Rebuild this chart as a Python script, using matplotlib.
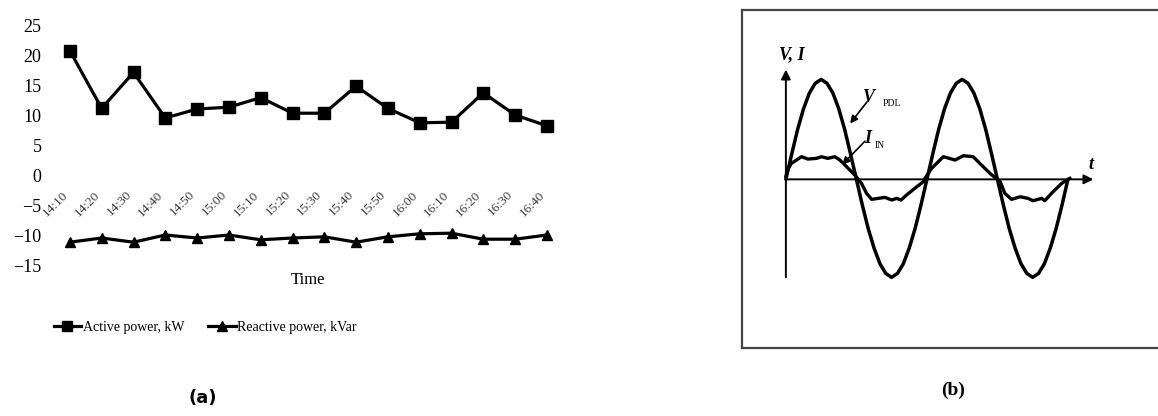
import matplotlib
matplotlib.use("Agg")
import matplotlib.pyplot as plt
import matplotlib.transforms as mtransforms

plt.rcParams['font.family'] = ['Liberation Serif', 'DejaVu Serif']

# (a) measured power, 14:10 - 16:40
times = ['14:10', '14:20', '14:30', '14:40', '14:50', '15:00', '15:10', '15:20',
         '15:30', '15:40', '15:50', '16:00', '16:10', '16:20', '16:30', '16:40']
active = [20.7, 11.1, 17.1, 9.5, 11.0, 11.3, 12.9, 10.3,
          10.3, 14.8, 11.1, 8.7, 8.8, 13.7, 10.0, 8.2]
reactive = [-11.2, -10.5, -11.2, -10.0, -10.5, -10.0, -10.8, -10.5,
            -10.3, -11.2, -10.3, -9.8, -9.7, -10.7, -10.7, -10.0]
y_ticks = [25, 20, 15, 10, 5, 0, -5, -10, -15]

# (b) schematic waveforms, phase in electrical degrees
v_phase = [0, 15, 30, 45, 60, 75, 90, 105, 120, 135, 150, 165, 180, 195, 210, 225, 240, 255, 270,
           285, 300, 315, 330, 345, 360, 375, 390, 405, 420, 435, 450, 465, 480, 495, 510, 525, 540,
           555, 570, 585, 600, 615, 630, 645, 660, 675, 690, 705, 720]
v_pdl = [0, 0.26, 0.51, 0.72, 0.88, 0.98, 1.02, 0.98, 0.88, 0.72, 0.51, 0.26, 0,
         -0.26, -0.5, -0.7, -0.86, -0.96, -1.0, -0.96, -0.86, -0.7, -0.5, -0.26, 0,
         0.26, 0.51, 0.72, 0.88, 0.98, 1.02, 0.98, 0.88, 0.72, 0.51, 0.26, 0,
         -0.26, -0.5, -0.7, -0.86, -0.96, -1.0, -0.96, -0.86, -0.7, -0.5, -0.26, 0]
i_phase = [0, 4, 14, 40, 56, 78, 91, 107, 125, 138, 155, 176, 193, 206, 219, 236, 253, 270, 283, 294, 308, 329, 351,
           355, 372, 402, 432, 453, 478, 495, 521, 547, 559, 576, 598, 618, 631, 653, 661, 678, 704, 725]
i_in = [0.03, 0.095, 0.163, 0.231, 0.207, 0.214, 0.231, 0.214, 0.231, 0.197, 0.129, 0.044, -0.041, -0.143, -0.204,
        -0.194, -0.184, -0.211, -0.194, -0.211, -0.160, -0.092, -0.024,
        0.01, 0.112, 0.231, 0.197, 0.241, 0.231, 0.163, 0.061, -0.024, -0.143, -0.204, -0.178, -0.194, -0.218,
        -0.194, -0.218, -0.143, -0.041, 0.01]

W, H = 1158, 416
fig = plt.figure(figsize=(W / 100, H / 100), dpi=100)

# ---------------- panel (a) ----------------
ax = fig.add_axes([54 / W, 1 - 265 / H, 508.8 / W, 240 / H])
x = list(range(len(times)))
ax.plot(x, active, color='black', lw=2.3, marker='s', ms=8.5, label='Active power, kW')
ax.plot(x, reactive, color='black', lw=2.3, marker='^', ms=7.5, label='Reactive power, kVar')
ax.set_xlim(-0.5, 15.5)
ax.set_ylim(-15, 25)
ax.set_yticks(y_ticks)
ax.tick_params(axis='y', length=0, pad=9, labelsize=13)
ax.spines['bottom'].set_position(('data', 0))
for s in ax.spines.values():
    s.set_visible(False)
ax.set_xticks(x)
ax.set_xticklabels(times, rotation=45, ha='right', va='center', rotation_mode='anchor',
                   fontsize=9.5, color='#3a3a3a')
ax.tick_params(axis='x', length=0, pad=13)
offset = mtransforms.ScaledTranslation(-4 / 100, 0, fig.dpi_scale_trans)
for lbl in ax.get_xticklabels():
    lbl.set_transform(lbl.get_transform() + offset)
ax.text(0.5, -0.0625, 'Time', transform=ax.transAxes, ha='center', va='center', fontsize=12)
ax.legend(loc='center', bbox_to_anchor=(205 / W, 1 - 327 / H), bbox_transform=fig.transFigure,
          ncol=2, frameon=False, fontsize=10, handlelength=2.0, handletextpad=0.1,
          columnspacing=1.7, markerscale=0.9)
fig.text(203 / W, 1 - 398 / H, '(a)', ha='center', va='center', fontsize=13,
         fontweight='bold', family='DejaVu Sans')

# ---------------- panel (b) ----------------
bx = fig.add_axes([742 / W, 1 - 348 / H, (1160 - 742) / W, 338 / H])
bx.set_xlim(-112, 955)
bx.set_ylim(-1.721, 1.728)
bx.set_xticks([])
bx.set_yticks([])
bx.spines['right'].set_visible(False)
for side in ['left', 'top', 'bottom']:
    bx.spines[side].set_color('#444444')
    bx.spines[side].set_linewidth(1.6)

bx.plot(v_phase, v_pdl, color='black', lw=2.5, solid_joinstyle='round', solid_capstyle='round')
bx.plot(i_phase, i_in, color='black', lw=2.4, solid_joinstyle='round')

arrow_kw = dict(arrowstyle='-|>', color='black', lw=1.4, mutation_scale=14, shrinkA=0, shrinkB=0)
bx.annotate('', xy=(0, 1.12), xytext=(0, -1.0), arrowprops=arrow_kw)
bx.annotate('', xy=(785, 0), xytext=(0, 0), arrowprops=arrow_kw)

bx.text(14, 1.27, 'V, I', ha='center', va='center', fontsize=13, fontweight='bold', style='italic')
bx.text(778, 0.15, 't', ha='center', va='center', fontsize=13, fontweight='bold', style='italic')
bx.text(212, 0.84, 'V', ha='center', va='center', fontsize=13, fontweight='bold', style='italic')
bx.text(271, 0.77, 'PDL', ha='center', va='center', fontsize=7)
bx.text(209, 0.42, 'I', ha='center', va='center', fontsize=13, fontweight='bold', style='italic')
bx.text(240, 0.35, 'IN', ha='center', va='center', fontsize=7)

ptr_kw = dict(arrowstyle='-|>', color='black', lw=1.2, mutation_scale=11, shrinkA=0, shrinkB=0)
bx.annotate('', xy=(164, 0.57), xytext=(207, 0.79), arrowprops=ptr_kw)
bx.annotate('', xy=(144, 0.15), xytext=(202, 0.39), arrowprops=ptr_kw)

fig.text(953 / W, 1 - 390 / H, '(b)', ha='center', va='center', fontsize=14, fontweight='bold')

fig.savefig('out.png', dpi=100)
